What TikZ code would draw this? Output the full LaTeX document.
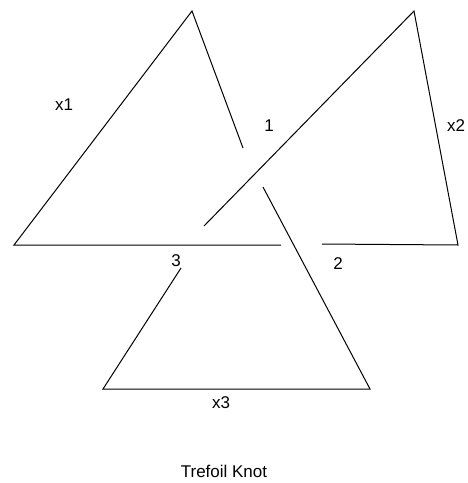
\documentclass[tikz,border=0pt]{standalone}
\usepackage{fontspec}
\setmainfont{Liberation Sans}
\begin{document}
\begin{tikzpicture}[x=1pt,y=-1pt,
  knot/.style={draw=black,line width=1pt,line cap=butt,line join=miter},
  lbl/.style={font=\fontsize{17}{20}\selectfont,inner sep=0pt}]
\useasboundingbox (0,0) rectangle (467,483);
% triangle 1
\coordinate (a1) at (14,245);
\coordinate (a2) at (192,11);
\coordinate (a3) at (243,148);
\coordinate (a4) at (281,245);
% triangle 2
\coordinate (b1) at (204,226);
\coordinate (b2) at (414,11);
\coordinate (b3) at (458,245);
\coordinate (b4) at (322,244);
% triangle 3
\coordinate (c1) at (263,187);
\coordinate (c2) at (370,389);
\coordinate (c3) at (103,389);
\coordinate (c4) at (181,268);
\draw[knot] (a4) -- (a1) -- (a2) -- (a3);
\draw[knot] (b1) -- (b2) -- (b3) -- (b4);
\draw[knot] (c1) -- (c2) -- (c3) -- (c4);
\node[lbl] (lx1) at (64,105) {x1};
\node[lbl] (l1) at (269,126) {1};
\node[lbl] (lx2) at (456,126) {x2};
\node[lbl] (l3) at (176,261) {3};
\node[lbl] (l2) at (338,264) {2};
\node[lbl] (lx3) at (221,403) {x3};
\node[lbl] (title) at (224,471) {Trefoil Knot};
\end{tikzpicture}
\end{document}
